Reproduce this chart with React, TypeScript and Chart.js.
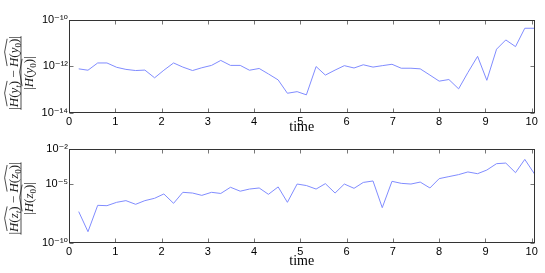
import { useEffect, useRef } from "react";
import { Chart, registerables } from "chart.js";

Chart.register(...registerables);

// ---- data ----
const times = [
  0.21, 0.41, 0.62, 0.82, 1.03, 1.23, 1.44, 1.64, 1.85, 2.05, 2.26, 2.46, 2.67, 2.87, 3.08, 3.28, 3.49,
  3.7, 3.9, 4.11, 4.31, 4.52, 4.72, 4.93, 5.13, 5.34, 5.54, 5.75, 5.95, 6.16, 6.36, 6.57, 6.77, 6.98,
  7.18, 7.39, 7.59, 7.8, 8.0, 8.21, 8.42, 8.62, 8.83, 9.03, 9.24, 9.44, 9.65, 9.85, 10.06,
];

const topErrors = [
  7.8e-13, 6.8e-13, 1.4e-12, 1.4e-12, 9.1e-13, 7.4e-13, 6.6e-13, 6.9e-13, 3.2e-13, 6.8e-13, 1.4e-12,
  9.3e-13, 6.6e-13, 8.7e-13, 1.1e-12, 1.8e-12, 1.1e-12, 1.1e-12, 6.8e-13, 8.1e-13, 4.7e-13, 2.6e-13,
  6.9e-14, 8.1e-14, 5.9e-14, 9.8e-13, 4.2e-13, 6.9e-13, 1.07e-12, 8.5e-13, 1.17e-12, 9.3e-13, 1.07e-12,
  1.23e-12, 8.3e-13, 8.3e-13, 7.8e-13, 4.2e-13, 2.3e-13, 2.7e-13, 1.07e-13, 5.4e-13, 2.7e-12, 2.5e-13,
  5.5e-12, 1.38e-11, 7.1e-12, 4.4e-11, 4.4e-11,
];

const bottomErrors = [
  4.5e-8, 8.7e-10, 1.55e-7, 1.45e-7, 2.8e-7, 3.9e-7, 1.9e-7, 3.9e-7, 6.2e-7, 1.45e-6, 2.3e-7, 2.0e-6,
  1.74e-6, 1.1e-6, 2.0e-6, 1.6e-6, 5.4e-6, 2.5e-6, 3.8e-6, 4.7e-6, 1.35e-6, 5.8e-6, 2.8e-7, 1.02e-5,
  7.6e-6, 3.8e-6, 1.1e-5, 1.74e-6, 1.02e-5, 4.4e-6, 1.4e-5, 1.86e-5, 9.8e-8, 1.74e-5, 1.17e-5, 1.02e-5,
  1.5e-5, 4.7e-6, 2.95e-5, 4.4e-5, 6.5e-5, 1.1e-4, 7.8e-5, 1.6e-4, 5.6e-4, 6.3e-4, 9.5e-5, 1.3e-3, 7.4e-5,
];

const xTicks = [0, 1, 2, 3, 4, 5, 6, 7, 8, 9, 10];
const xMin = 0;
const xMax = 10.06;
const topYTicks = [1e-14, 1e-12, 1e-10];
const bottomYTicks = [1e-10, 1e-5, 1e-2];
const xLabel = "time";
const topVar = "y";
const bottomVar = "z";
const subT = "t";
const sub0 = "0";

// ---- style ----
const LINE = "rgb(128,140,255)";
const SANS = "'Liberation Sans', Arial, 'DejaVu Sans', sans-serif";
const SERIF = "'Liberation Serif', 'DejaVu Serif', serif";
const W = 545;
const PLOT_LEFT = 69;
const PLOT_RIGHT = 534.5;

const SUP: Record<string, string> = {
  "-": "⁻", "0": "⁰", "1": "¹", "2": "²", "3": "³", "4": "⁴", "5": "⁵", "6": "⁶", "7": "⁷", "8": "⁸", "9": "⁹",
};
function powLabel(v: number): string {
  const e = Math.round(Math.log10(v));
  return "10" + String(e).split("").map((c) => SUP[c] ?? c).join("");
}

type Part = { t: string; it?: boolean; sub?: boolean; hatOpen?: boolean; hatClose?: boolean };

function numerParts(v: string): Part[] {
  return [
    { t: "|" },
    { t: "H", it: true, hatOpen: true },
    { t: "(" },
    { t: v, it: true },
    { t: subT, it: true, sub: true },
    { t: ")", hatClose: true },
    { t: " − " },
    { t: "H", it: true, hatOpen: true },
    { t: "(" },
    { t: v, it: true },
    { t: sub0, sub: true },
    { t: ")", hatClose: true },
    { t: "|" },
  ];
}
function denomParts(v: string): Part[] {
  return [
    { t: "|" },
    { t: "H", it: true, hatOpen: true },
    { t: "(" },
    { t: v, it: true },
    { t: sub0, sub: true },
    { t: ")", hatClose: true },
    { t: "|" },
  ];
}

const MAIN = 13;
const SUBS = 9;
function fontFor(p: Part) {
  const size = p.sub ? SUBS : MAIN;
  return `${p.it ? "italic " : ""}${size}px ${SERIF}`;
}
function measureParts(ctx: CanvasRenderingContext2D, parts: Part[]) {
  let w = 0;
  for (const p of parts) {
    ctx.font = fontFor(p);
    w += ctx.measureText(p.t).width;
  }
  return w;
}
function drawParts(ctx: CanvasRenderingContext2D, parts: Part[], x0: number, baseline: number) {
  let x = x0;
  let hatStart = 0;
  ctx.textBaseline = "alphabetic";
  ctx.textAlign = "left";
  for (const p of parts) {
    ctx.font = fontFor(p);
    if (p.hatOpen) hatStart = x;
    ctx.fillText(p.t, x, baseline + (p.sub ? 3 : 0));
    x += ctx.measureText(p.t).width;
    if (p.hatClose) {
      const hy = baseline - MAIN * 0.72 - 1.5;
      ctx.beginPath();
      ctx.moveTo(hatStart + 1, hy);
      ctx.lineTo((hatStart + x) / 2 + 1, hy - 2.5);
      ctx.lineTo(x, hy);
      ctx.lineWidth = 0.8;
      ctx.stroke();
    }
  }
}

const framePlugin = {
  id: "frame",
  afterDraw(chart: any, _args: any, opts: any) {
    const { ctx, chartArea: a, scales } = chart;
    ctx.save();
    const L = Math.round(a.left) + 0.5;
    const R = Math.round(a.right) - 0.5;
    const T = Math.round(a.top) + 0.5;
    const B = Math.round(a.bottom) - 0.5;
    ctx.strokeStyle = "#777";
    ctx.lineWidth = 1;
    ctx.beginPath();
    for (const v of xTicks) {
      const x = Math.round(scales.x.getPixelForValue(v)) + 0.5;
      ctx.moveTo(x, T);
      ctx.lineTo(x, T + 4);
      ctx.moveTo(x, B);
      ctx.lineTo(x, B - 4);
    }
    for (const v of opts.yTicks as number[]) {
      const y = Math.round(scales.y.getPixelForValue(v)) + 0.5;
      ctx.moveTo(L, y);
      ctx.lineTo(L + 4, y);
      ctx.moveTo(R, y);
      ctx.lineTo(R - 4, y);
    }
    ctx.stroke();
    ctx.strokeStyle = "#333";
    ctx.strokeRect(L, T, R - L, B - T);

    // rotated fraction y-axis title
    ctx.translate(opts.barX, opts.centerY);
    ctx.rotate(-Math.PI / 2);
    ctx.fillStyle = "#222";
    ctx.strokeStyle = "#222";
    const num = numerParts(opts.varName);
    const den = denomParts(opts.varName);
    const nw = measureParts(ctx, num);
    const dw = measureParts(ctx, den);
    drawParts(ctx, num, -nw / 2, -3);
    drawParts(ctx, den, -dw / 2, 12);
    ctx.beginPath();
    ctx.moveTo(-nw / 2, 0);
    ctx.lineTo(nw / 2, 0);
    ctx.lineWidth = 0.8;
    ctx.stroke();
    ctx.restore();
  },
};

type PanelProps = {
  values: number[];
  yTicks: number[];
  height: number;
  top: number;
  padTop: number;
  plotBottom: number;
  titlePad: number;
  varName: string;
  centerY: number;
};

function Panel(props: PanelProps) {
  const ref = useRef<HTMLCanvasElement | null>(null);
  useEffect(() => {
    if (!ref.current) return;
    const { values, yTicks, height, padTop, plotBottom, titlePad, varName, centerY } = props;
    const chart = new Chart(ref.current, {
      type: "line",
      data: {
        datasets: [
          {
            data: times.map((t, i) => ({ x: t, y: values[i] })),
            borderColor: LINE,
            borderWidth: 1,
            pointRadius: 0,
            fill: false,
            tension: 0,
          },
        ],
      },
      options: {
        animation: false,
        responsive: false,
        devicePixelRatio: 1,
        layout: { padding: { top: padTop, right: W - PLOT_RIGHT, left: 0, bottom: 0 } },
        plugins: {
          legend: { display: false },
          tooltip: { enabled: false },
          frame: { yTicks, varName, centerY, barX: 21 },
        } as any,
        scales: {
          x: {
            type: "linear",
            min: xMin,
            max: xMax,
            afterBuildTicks: (s: any) => {
              s.ticks = xTicks.map((v) => ({ value: v }));
            },
            afterFit: (s: any) => {
              s.height = height - plotBottom;
            },
            grid: { display: false, drawTicks: false },
            border: { display: false },
            ticks: {
              font: { family: SANS, size: 11 },
              color: "#000",
              padding: 3,
              maxRotation: 0,
              autoSkip: false,
            },
            title: {
              display: true,
              text: xLabel,
              font: { family: SERIF, size: 14, lineHeight: 1.2 },
              color: "#000",
              padding: { top: 0, bottom: titlePad },
            },
          },
          y: {
            type: "logarithmic",
            min: yTicks[0],
            max: yTicks[yTicks.length - 1],
            afterBuildTicks: (s: any) => {
              s.ticks = yTicks.map((v) => ({ value: v }));
            },
            afterFit: (s: any) => {
              s.width = PLOT_LEFT;
            },
            grid: { display: false, drawTicks: false },
            border: { display: false },
            ticks: {
              callback: (v: any) => powLabel(Number(v)),
              font: { family: SANS, size: 11 },
              color: "#000",
              padding: 1,
              autoSkip: false,
            },
          },
        },
      },
      plugins: [framePlugin],
    });
    return () => chart.destroy();
  }, []);
  return (
    <canvas
      ref={ref}
      width={W}
      height={props.height}
      style={{ position: "absolute", left: 0, top: props.top, width: W, height: props.height }}
    />
  );
}

export default function App() {
  return (
    <div style={{ position: "absolute", left: 0, top: 0, width: W, height: 273, background: "#fff" }}>
      <Panel
        values={topErrors}
        yTicks={topYTicks}
        height={136}
        top={0}
        padTop={20}
        plotBottom={112.7}
        titlePad={0}
        varName={topVar}
        centerY={73}
      />
      <Panel
        values={bottomErrors}
        yTicks={bottomYTicks}
        height={137}
        top={136}
        padTop={13}
        plotBottom={106.7}
        titlePad={3.6}
        varName={bottomVar}
        centerY={62.5}
      />
    </div>
  );
}
